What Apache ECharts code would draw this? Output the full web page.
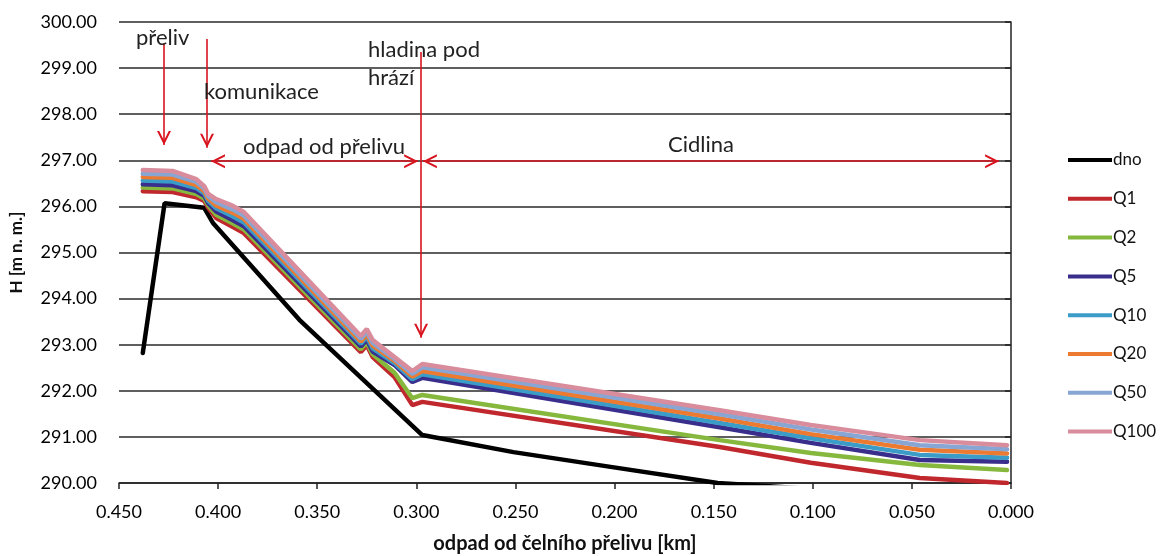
<!DOCTYPE html>
<html>
<head>
<meta charset="utf-8">
<script src="https://cdn.jsdelivr.net/npm/echarts@6/dist/echarts.min.js"></script>
<style>
  html, body { margin: 0; padding: 0; background: #fff; }
  #container { width: 1160px; height: 556px; }
</style>
</head>
<body>
<div id="container"></div>
<script>
// staničení [km] - osa x je obrácená (0.450 vlevo, 0.000 vpravo)
var xKm = [0.438, 0.423, 0.411, 0.407, 0.405, 0.401, 0.3925, 0.387, 0.328, 0.325, 0.322, 0.311, 0.302, 0.297, 0.147, 0.101, 0.046, 0.002];

// dno
var dnoKm = [0.438, 0.427, 0.407, 0.4026, 0.359, 0.297, 0.251, 0.202, 0.148, 0.0];
var dnoH = [292.82, 296.07, 295.97, 295.64, 293.54, 291.04, 290.67, 290.35, 290.00, 289.60];

// hladiny pro jednotlivé průtoky
var q1 = [296.33, 296.31, 296.20, 296.12, 295.97, 295.75, 295.55, 295.42, 292.84, 292.99, 292.73, 292.30, 291.69, 291.76, 290.78, 290.44, 290.11, 290.00];
var q2 = [296.41, 296.39, 296.27, 296.17, 296.02, 295.82, 295.63, 295.50, 292.90, 293.05, 292.79, 292.39, 291.84, 291.91, 290.93, 290.65, 290.39, 290.28];
var q5 = [296.48, 296.46, 296.33, 296.23, 296.07, 295.89, 295.70, 295.57, 292.96, 293.11, 292.85, 292.56, 292.19, 292.28, 291.21, 290.87, 290.50, 290.46];
var q10 = [296.56, 296.54, 296.40, 296.28, 296.12, 295.96, 295.78, 295.65, 293.02, 293.17, 292.92, 292.60, 292.25, 292.36, 291.30, 290.97, 290.61, 290.55];
var q20 = [296.64, 296.62, 296.46, 296.33, 296.17, 296.02, 295.86, 295.73, 293.07, 293.22, 292.98, 292.65, 292.31, 292.43, 291.40, 291.06, 290.72, 290.64];
var q50 = [296.71, 296.69, 296.53, 296.39, 296.22, 296.09, 295.93, 295.80, 293.13, 293.28, 293.04, 292.69, 292.37, 292.51, 291.49, 291.16, 290.82, 290.73];
var q100 = [296.79, 296.77, 296.59, 296.44, 296.27, 296.16, 296.01, 295.88, 293.19, 293.34, 293.10, 292.73, 292.43, 292.58, 291.58, 291.26, 290.93, 290.82];

var seriesNames = ['dno', 'Q1', 'Q2', 'Q5', 'Q10', 'Q20', 'Q50', 'Q100'];
var seriesColors = ['#000000', '#c0282d', '#86b83e', '#3a2e8c', '#3b9cc8', '#ec7a30', '#88a6d4', '#d88c9c'];

// svislé šipky: [km, H od, H do]
var arrowsV = [[0.4273, 299.54, 297.33], [0.4056, 299.63, 297.27], [0.2976, 299.35, 293.15]];
// vodorovné šipky: [H, km od, km do]
var arrowsH = [[296.98, 0.4036, 0.2991], [296.98, 0.2967, 0.006]];

// popisky (levý horní roh textu)
var notes = [
    { text: 'přeliv', x: 136, y: 27 },
    { text: 'komunikace', x: 204, y: 81 },
    { text: 'hladina pod', x: 368, y: 39 },
    { text: 'hrází', x: 368, y: 67 },
    { text: 'odpad od přelivu', x: 243, y: 136 },
    { text: 'Cidlina', x: 668, y: 134 }
];

var FONT = 'Lato, "Noto Sans", sans-serif';

function zip(xs, ys) {
    var out = [];
    for (var i = 0; i < xs.length; i++) out.push([xs[i], ys[i]]);
    return out;
}

// otevřená šipka, špička je uprostřed symbolu
var chevron = 'path://M5,0 L5.01,0 L5,0.01 Z M0,20 L5,10 L10,20 L8.4,20 L5,13.2 L1.6,20 Z';

var markData = [];
arrowsV.forEach(function (a) {
    markData.push([{ coord: [a[0], a[1]], symbol: 'none' }, { coord: [a[0], a[2]], symbol: chevron }]);
});
arrowsH.forEach(function (a) {
    markData.push([{ coord: [a[1], a[0]], symbol: chevron }, { coord: [a[2], a[0]], symbol: chevron }]);
});

var qData = [q1, q2, q5, q10, q20, q50, q100];
var series = [{
    name: 'dno',
    type: 'line',
    data: zip(dnoKm, dnoH),
    symbol: 'none',
    lineStyle: { color: seriesColors[0], width: 4.5, cap: 'round' },
    itemStyle: { color: seriesColors[0] },
    markLine: {
        silent: true,
        symbolSize: [14, 28],
        label: { show: false },
        lineStyle: { color: '#d8141e', width: 1.6, type: 'solid' },
        emphasis: { disabled: true },
        data: markData
    },
    z: 2
}];
qData.forEach(function (arr, i) {
    series.push({
        name: seriesNames[i + 1],
        type: 'line',
        data: zip(xKm, arr),
        symbol: 'none',
        lineStyle: { color: seriesColors[i + 1], width: 4.5, cap: 'round' },
        itemStyle: { color: seriesColors[i + 1] },
        z: 2
    });
});

var graphics = notes.map(function (n) {
    return {
        type: 'text',
        x: n.x,
        y: n.y,
        z: 10,
        style: { text: n.text, fill: '#222', font: '22px ' + FONT }
    };
});

var myChart = echarts.init(document.getElementById('container'));
var option = {
    animation: false,
    backgroundColor: '#fff',
    // pevná plocha grafu, bez automatického zmenšování kvůli popiskům
    grid: { left: 119, right: 149, top: 22, bottom: 73, outerBoundsMode: 'none' },
    legend: {
        orient: 'vertical',
        left: 1063,
        top: 145,
        itemWidth: 44,
        itemHeight: 4,
        itemGap: 18.8,
        icon: 'rect',
        data: seriesNames,
        textStyle: { fontFamily: FONT, fontSize: 17, color: '#111', lineHeight: 20, padding: [0, 0, 0, -4] }
    },
    xAxis: {
        type: 'value',
        inverse: true,
        min: 0,
        max: 0.45,
        interval: 0.05,
        name: 'odpad od čelního přelivu [km]',
        nameLocation: 'middle',
        nameGap: 51,
        nameTextStyle: { fontFamily: FONT, fontSize: 20, fontWeight: 'bold', color: '#111' },
        axisLine: { lineStyle: { color: '#222', width: 1.5 } },
        axisTick: { show: true, length: 6, lineStyle: { color: '#222', width: 1.5 } },
        axisLabel: {
            fontFamily: FONT, fontSize: 18, color: '#000', margin: 20,
            formatter: function (v) { return v.toFixed(3); }
        },
        splitLine: { show: false }
    },
    yAxis: {
        type: 'value',
        min: 290,
        max: 300,
        interval: 1,
        name: 'H [m n. m.]',
        nameLocation: 'middle',
        nameGap: 94,
        nameRotate: 90,
        nameTextStyle: { fontFamily: FONT, fontSize: 17, fontWeight: 'bold', color: '#111' },
        axisLine: { show: true, lineStyle: { color: '#222', width: 1.5 } },
        axisTick: { show: true, length: 6, lineStyle: { color: '#222', width: 1.5 } },
        axisLabel: {
            fontFamily: FONT, fontSize: 18, color: '#000', margin: 22,
            formatter: function (v) { return v.toFixed(2); }
        },
        splitLine: { show: true, lineStyle: { color: '#2a2a2a', width: 1.5 } }
    },
    graphic: graphics,
    series: series
};
myChart.setOption(option);
</script>
</body>
</html>
